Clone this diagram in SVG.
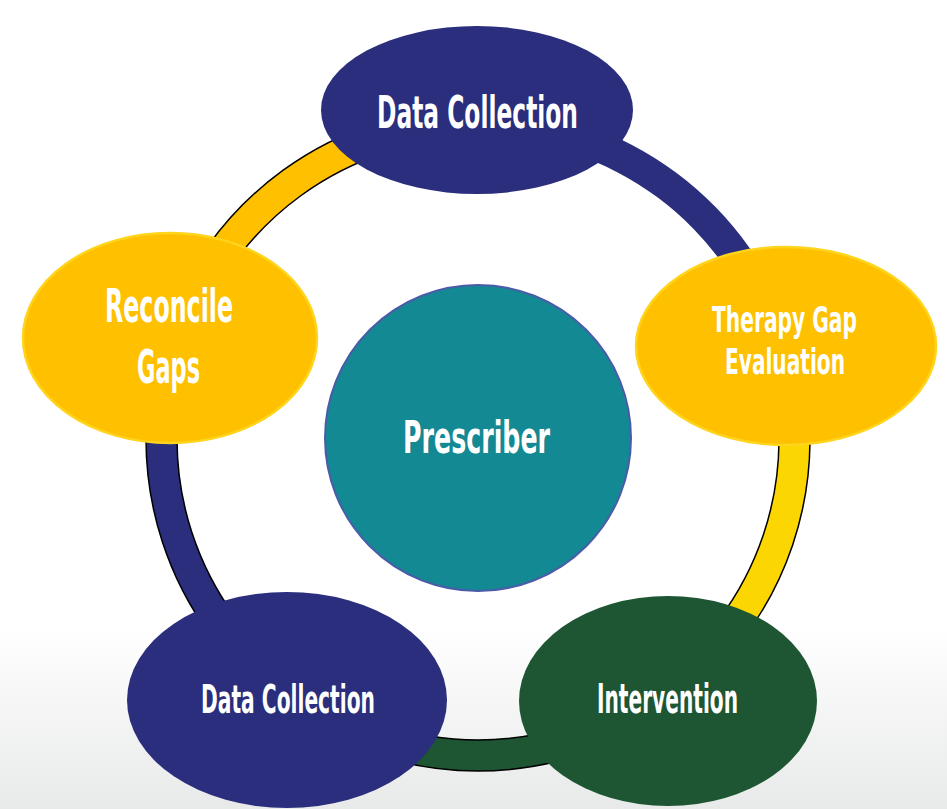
<svg xmlns="http://www.w3.org/2000/svg" width="947" height="809" viewBox="0 0 947 809">
<defs>
<linearGradient id="bg" x1="0" y1="0" x2="0" y2="1">
<stop offset="0" stop-color="#ffffff"/>
<stop offset="0.78" stop-color="#ffffff"/>
<stop offset="1" stop-color="#e8e9e9"/>
</linearGradient>
</defs>
<style>
.ring{stroke:#000;stroke-width:1.5}
.lbl{font-family:"Liberation Sans Narrow","DejaVu Sans Condensed","Liberation Sans",sans-serif;font-weight:bold;fill:#ffffff;text-anchor:middle}
.navy{fill:#2a2e7c}
.yel{fill:#ffc000;stroke:#ffd41c;stroke-width:2.5}
</style>
<rect x="0" y="0" width="947" height="809" fill="url(#bg)"/>
<g id="connectors">
<path class="ring" fill="#ffc000" d="M162.25,336.41 A332,332 0 0 1 478,107 L478,138 A301,301 0 0 0 191.73,345.99 Z"/>
<path fill="#2a2e7c" d="M478,107 A332,332 0 0 1 795.83,343.04 L766.15,352 A301,301 0 0 0 478,138 Z"/>
<path class="ring" fill="#fcd600" d="M795.83,343.04 A332,332 0 0 1 673.15,707.59 L654.92,682.51 A301,301 0 0 0 766.15,352 Z"/>
<path class="ring" fill="#1e5634" d="M673.15,707.59 A332,332 0 0 1 282.85,707.59 L301.08,682.51 A301,301 0 0 0 654.92,682.51 Z"/>
<path class="ring" fill="#2a2e7c" d="M282.85,707.59 A332,332 0 0 1 162.25,336.41 L191.73,345.99 A301,301 0 0 0 301.08,682.51 Z"/>
</g>
<g id="node-data-collection-top">
<ellipse class="navy" cx="477" cy="110" rx="156" ry="84"/>
<text class="lbl" x="477.5" y="128" font-size="44" textLength="201" lengthAdjust="spacingAndGlyphs">Data Collection</text>
</g>
<g id="node-therapy-gap">
<ellipse class="yel" cx="786" cy="346" rx="150" ry="99"/>
<text class="lbl" x="784.5" y="332" font-size="36" textLength="145" lengthAdjust="spacingAndGlyphs">Therapy Gap</text>
<text class="lbl" x="785" y="374" font-size="36" textLength="120" lengthAdjust="spacingAndGlyphs">Evaluation</text>
</g>
<g id="node-reconcile-gaps">
<ellipse class="yel" cx="170" cy="338" rx="147" ry="105"/>
<text class="lbl" x="169" y="322" font-size="46" textLength="128" lengthAdjust="spacingAndGlyphs">Reconcile</text>
<text class="lbl" x="168.5" y="383" font-size="46" textLength="63" lengthAdjust="spacingAndGlyphs">Gaps</text>
</g>
<g id="node-prescriber">
<circle cx="478" cy="438" r="153" fill="#138993" stroke="#4a5ca8" stroke-width="2"/>
<text class="lbl" x="476.5" y="453" font-size="45" textLength="147" lengthAdjust="spacingAndGlyphs">Prescriber</text>
</g>
<g id="node-data-collection-bottom">
<ellipse class="navy" cx="287" cy="700" rx="160" ry="108"/>
<text class="lbl" x="288" y="713" font-size="39" textLength="174" lengthAdjust="spacingAndGlyphs">Data Collection</text>
</g>
<g id="node-intervention">
<ellipse cx="668" cy="701" rx="149" ry="105" fill="#1e5634"/>
<text class="lbl" x="667.5" y="713" font-size="40" textLength="141" lengthAdjust="spacingAndGlyphs">Intervention</text>
</g>
</svg>
